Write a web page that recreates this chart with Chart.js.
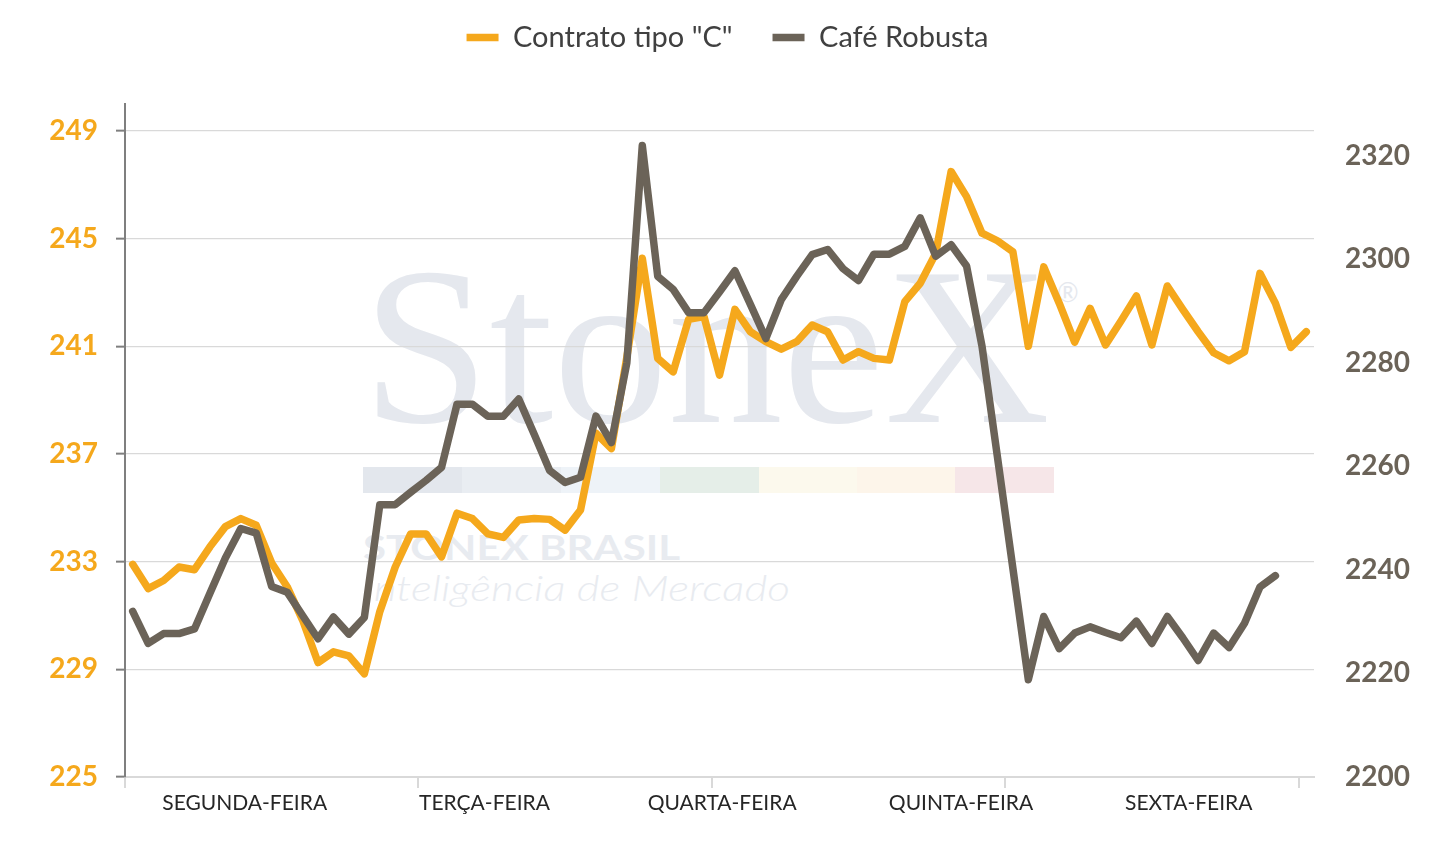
<!DOCTYPE html>
<html>
<head>
<meta charset="utf-8">
<script src="https://cdn.jsdelivr.net/npm/chart.js@4.4.1/dist/chart.umd.min.js"></script>
<style>
html, body { margin: 0; padding: 0; background: #ffffff; }
#wrap { position: relative; width: 1455px; height: 842px; overflow: hidden; }
#wm { position: absolute; left: 0; top: 0; }
#c { position: absolute; left: 0; top: 0; }
</style>
</head>
<body>
<div id="wrap">
<svg id="wm" width="1455" height="842" xmlns="http://www.w3.org/2000/svg">
  <text x="362" y="422" font-family="Liberation Serif, DejaVu Serif, serif" font-size="225" fill="#e5e8ee" textLength="688" lengthAdjust="spacingAndGlyphs">StoneX</text>
  <text x="1057" y="302" font-family="Lato, sans-serif" font-size="26" fill="#e5e8ee">®</text>
  <rect x="363" y="467" width="99" height="26" fill="#e3e7ed"/>
  <rect x="462" y="467" width="99" height="26" fill="#e9edf2"/>
  <rect x="561" y="467" width="99" height="26" fill="#eef3f8"/>
  <rect x="660" y="467" width="99" height="26" fill="#e5eee8"/>
  <rect x="759" y="467" width="98" height="26" fill="#fcf9ed"/>
  <rect x="857" y="467" width="98" height="26" fill="#fdf5ea"/>
  <rect x="955" y="467" width="99" height="26" fill="#f6e6e8"/>
  <text x="363" y="560" font-family="Lato, sans-serif" font-weight="bold" font-size="35" fill="#e8ebf0" textLength="317" lengthAdjust="spacingAndGlyphs">STONEX BRASIL</text>
  <text x="363" y="601" font-family="Lato, sans-serif" font-weight="300" font-style="italic" font-size="36" fill="#e8ebf0" textLength="427" lengthAdjust="spacingAndGlyphs">Inteligência de Mercado</text>
</svg>
<canvas id="c" width="1455" height="842"></canvas>
</div>
<script>
// ---- data ----
const seriesNames = ['Contrato tipo "C"', 'Café Robusta'];
const days = ['SEGUNDA-FEIRA', 'TERÇA-FEIRA', 'QUARTA-FEIRA', 'QUINTA-FEIRA', 'SEXTA-FEIRA'];
const dayLabelAt = [7.25, 22.78, 38.17, 53.64, 68.39];
const dayBounds = [-0.5, 18.5, 37.5, 56.5, 75.5];
const leftTicks = [225, 229, 233, 237, 241, 245, 249];
const rightTicks = [2200, 2220, 2240, 2260, 2280, 2300, 2320];

const contratoC = [
  232.9, 232.0, 232.3, 232.8, 232.7, 233.55, 234.3, 234.6, 234.35, 232.95,
  232.07, 230.83, 229.25, 229.65, 229.5, 228.83, 231.14, 232.8, 234.03, 234.03,
  233.18, 234.8, 234.6, 234.03, 233.9, 234.55, 234.6, 234.57, 234.17, 234.92,
  237.77, 237.2, 240.6, 244.27, 240.55, 240.05, 242.0, 242.1, 239.93, 242.37,
  241.54, 241.17, 240.89, 241.17, 241.79, 241.54, 240.49, 240.8, 240.55, 240.49,
  242.66, 243.34, 244.45, 247.49, 246.56, 245.2, 244.92, 244.51, 241.0, 243.95,
  242.6, 241.15, 242.41, 241.05, 241.94, 242.87, 241.05, 243.24, 242.37, 241.54,
  240.76, 240.46, 240.8, 243.71, 242.6, 240.96, 241.54
];

const robusta = [
  2232.0, 2225.8, 2227.7, 2227.7, 2228.6, 2235.5, 2242.3, 2248.0, 2247.1, 2236.8,
  2235.7, 2231.2, 2226.7, 2230.9, 2227.6, 2230.8, 2252.6, 2252.6, 2255.0, 2257.3,
  2259.8, 2272.0, 2272.0, 2269.7, 2269.7, 2273.0, 2266.2, 2259.2, 2256.9, 2257.9,
  2269.7, 2264.6, 2280.0, 2322.0, 2296.7, 2294.2, 2289.7, 2289.7, 2293.7, 2297.8,
  2291.3, 2284.7, 2292.2, 2296.7, 2300.9, 2301.9, 2298.2, 2295.9, 2301.0, 2301.0,
  2302.5, 2308.0, 2300.6, 2302.8, 2298.7, 2283.2, 2261.8, 2240.3, 2218.8, 2231.0,
  2224.8, 2227.8, 2229.0, 2227.9, 2226.9, 2230.1, 2225.8, 2231.0, 2226.9, 2222.5,
  2227.8, 2225.0, 2229.7, 2236.7, 2238.9
];

// ---- styles ----
const ORANGE = '#f5a81c';
const GRAY = '#6b6358';
const FONT = 'Lato, "Open Sans", sans-serif';

const pts = arr => arr.map((v, i) => ({ x: i, y: v }));

const legendPlugin = {
  id: 'legendBox',
  beforeLayout(chart) {
    const lg = chart.legend;
    if (lg && !lg._patched) {
      const orig = lg.fit;
      lg.fit = function () { orig.call(this); this.height = 104; };
      lg._patched = true;
    }
  },
  afterLayout(chart) {
    const lg = chart.legend;
    if (lg) { lg.top -= 17; lg.bottom -= 17; }
  }
};

new Chart(document.getElementById('c'), {
  type: 'line',
  data: {
    datasets: [
      {
        label: seriesNames[0],
        data: pts(contratoC),
        yAxisID: 'y',
        borderColor: ORANGE,
        backgroundColor: ORANGE,
        borderWidth: 7.5,
        borderJoinStyle: 'round',
        borderCapStyle: 'round',
        pointRadius: 0,
        tension: 0,
        order: 2
      },
      {
        label: seriesNames[1],
        data: pts(robusta),
        yAxisID: 'y1',
        borderColor: GRAY,
        backgroundColor: GRAY,
        borderWidth: 7.5,
        borderJoinStyle: 'round',
        borderCapStyle: 'round',
        pointRadius: 0,
        tension: 0,
        order: 1
      }
    ]
  },
  options: {
    responsive: false,
    animation: false,
    devicePixelRatio: 1,
    layout: { padding: 0 },
    plugins: {
      tooltip: { enabled: false },
      legend: {
        position: 'top',
        align: 'center',
        labels: {
          usePointStyle: true,
          pointStyle: 'line',
          pointStyleWidth: 32,
          padding: 40,
          color: '#404040',
          font: { family: FONT, size: 29 },
          sort: (a, b) => a.datasetIndex - b.datasetIndex
        }
      }
    },
    scales: {
      x: {
        type: 'linear',
        min: -0.5,
        max: 76.5,
        afterBuildTicks(scale) {
          scale.ticks = dayBounds.concat(dayLabelAt).sort((a, b) => a - b).map(v => ({ value: v }));
        },
        afterFit(scale) { scale.height = 65; },
        ticks: {
          autoSkip: false,
          maxRotation: 0,
          minRotation: 0,
          padding: 3,
          color: '#262626',
          font: { family: FONT, size: 21 },
          callback(value) {
            const k = dayLabelAt.indexOf(value);
            return k >= 0 ? days[k] : '';
          }
        },
        grid: {
          drawOnChartArea: false,
          drawTicks: true,
          tickLength: 11,
          lineWidth: 2,
          color: ctx => (ctx.tick && dayBounds.includes(ctx.tick.value)) ? '#d9d9d9' : 'rgba(0,0,0,0)'
        },
        border: { display: true, color: '#d9d9d9', width: 2 }
      },
      y: {
        type: 'linear',
        position: 'left',
        min: 225,
        max: 250,
        afterBuildTicks(scale) { scale.ticks = leftTicks.map(v => ({ value: v })); },
        afterFit(scale) { scale.width = 125; },
        ticks: {
          padding: 18,
          color: ORANGE,
          font: { family: FONT, size: 28, weight: 'bold' },
          callback: v => String(v)
        },
        grid: {
          color: '#d9d9d9',
          lineWidth: 1.3,
          tickColor: '#7f7f7f',
          tickLength: 9,
          tickWidth: 2
        },
        border: { display: true, color: '#7f7f7f', width: 2 }
      },
      y1: {
        type: 'linear',
        position: 'right',
        min: 2200,
        max: 2330,
        afterBuildTicks(scale) { scale.ticks = rightTicks.map(v => ({ value: v })); },
        afterFit(scale) { scale.width = 141; },
        ticks: {
          padding: 31,
          color: GRAY,
          font: { family: FONT, size: 28, weight: 'bold' },
          callback: v => String(v)
        },
        grid: { display: false, drawOnChartArea: false, drawTicks: false },
        border: { display: false }
      }
    }
  },
  plugins: [legendPlugin]
});
</script>
</body>
</html>
